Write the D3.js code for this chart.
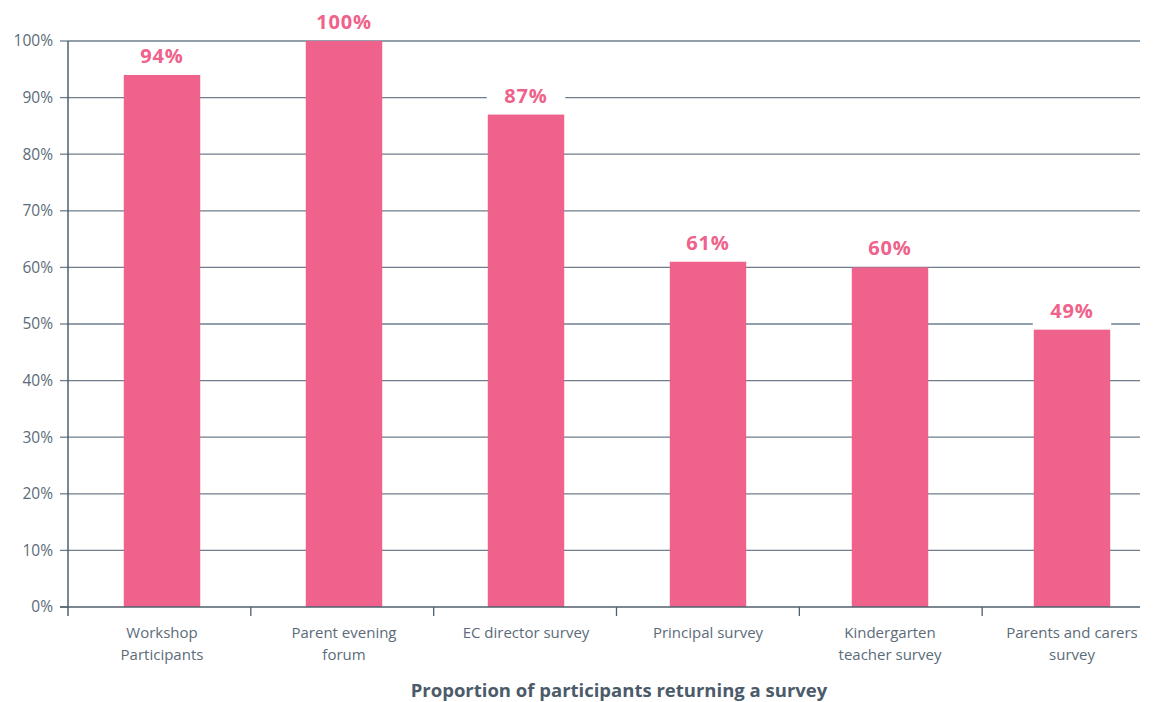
<!DOCTYPE html>
<html>
<head>
<meta charset="utf-8">
<script src="https://cdn.jsdelivr.net/npm/d3@7"></script>
<style>
  html, body { margin: 0; padding: 0; background: #fff; }
  svg { display: block; }
  text { font-family: "Open Sans", "Noto Sans", sans-serif; }
</style>
</head>
<body>
<svg id="chart" width="1154" height="702"></svg>
<script>
// Survey return rates by participant group
const categories = [
  ["Workshop", "Participants"],
  ["Parent evening", "forum"],
  ["EC director survey"],
  ["Principal survey"],
  ["Kindergarten", "teacher survey"],
  ["Parents and carers", "survey"]
];
const values = [94, 100, 87, 61, 60, 49];
const yTicks = [0, 10, 20, 30, 40, 50, 60, 70, 80, 90, 100];
const axisTitle = "Proportion of participants returning a survey";

const svg = d3.select("#chart");
const plotLeft = 68, plotTop = 41, plotBottom = 607, gridRight = 1140;

// Bars
const x = d3.scaleBand()
  .domain(d3.range(categories.length))
  .range([71, 1163])
  .paddingInner(0.58)
  .paddingOuter(0.29);

// Category slots along the x axis (for separator ticks)
const slot = d3.scaleBand()
  .domain(d3.range(categories.length))
  .range([plotLeft, 1165]);

const y = d3.scaleLinear().domain([0, 100]).range([plotBottom, plotTop]);

const gridColor = "#6e7e8c";
const textColor = "#5b6b79";
const pink = "#ef628b";

// Horizontal gridlines
svg.append("g").selectAll("line")
  .data(yTicks.filter(d => d > 0))
  .join("line")
  .attr("x1", plotLeft).attr("x2", gridRight)
  .attr("y1", d => y(d)).attr("y2", d => y(d))
  .attr("stroke", gridColor).attr("stroke-width", 1.3);

// Y tick labels and tick marks
const yg = svg.append("g");
yg.selectAll("text")
  .data(yTicks)
  .join("text")
  .attr("x", plotLeft - 15)
  .attr("y", d => y(d))
  .attr("dy", "0.35em")
  .attr("text-anchor", "end")
  .attr("fill", textColor)
  .attr("font-size", 15.5)
  .text(d => d + "%");
yg.selectAll("line")
  .data(yTicks)
  .join("line")
  .attr("x1", plotLeft - 8).attr("x2", plotLeft)
  .attr("y1", d => y(d)).attr("y2", d => y(d))
  .attr("stroke", gridColor).attr("stroke-width", 1.3);

// Bars
svg.append("g").selectAll("rect")
  .data(values)
  .join("rect")
  .attr("x", (d, i) => x(i))
  .attr("y", d => y(d))
  .attr("width", x.bandwidth())
  .attr("height", d => plotBottom - y(d))
  .attr("fill", pink);

// Value labels on white backing
const lab = svg.append("g").selectAll("g")
  .data(values)
  .join("g");
lab.append("rect")
  .attr("x", (d, i) => x(i) - 1)
  .attr("y", d => y(d) - 32)
  .attr("width", x.bandwidth() + 2)
  .attr("height", 30)
  .attr("fill", "#fff");
lab.append("text")
  .attr("x", (d, i) => x(i) + x.bandwidth() / 2)
  .attr("y", d => y(d) - 12)
  .attr("text-anchor", "middle")
  .attr("fill", pink)
  .attr("font-size", 20)
  .attr("font-weight", "bold")
  .attr("letter-spacing", 0.8)
  .text(d => d + "%");

// Axis lines
svg.append("line")
  .attr("x1", plotLeft).attr("x2", plotLeft)
  .attr("y1", plotTop).attr("y2", plotBottom + 9)
  .attr("stroke", "#4f5f6d").attr("stroke-width", 1.5);
svg.append("line")
  .attr("x1", plotLeft - 8).attr("x2", gridRight)
  .attr("y1", plotBottom).attr("y2", plotBottom)
  .attr("stroke", "#4f5f6d").attr("stroke-width", 1.5);

// Category separators
svg.append("g").selectAll("line")
  .data(d3.range(1, categories.length))
  .join("line")
  .attr("x1", i => slot(i))
  .attr("x2", i => slot(i))
  .attr("y1", plotBottom).attr("y2", plotBottom + 9)
  .attr("stroke", "#4f5f6d").attr("stroke-width", 1.3);

// Category labels
const cl = svg.append("g").selectAll("text")
  .data(categories)
  .join("text")
  .attr("x", (d, i) => x(i) + x.bandwidth() / 2)
  .attr("y", 638)
  .attr("text-anchor", "middle")
  .attr("fill", textColor)
  .attr("font-size", 15);
cl.selectAll("tspan")
  .data(d => d)
  .join("tspan")
  .attr("x", function () { return d3.select(this.parentNode).attr("x"); })
  .attr("dy", (d, j) => j === 0 ? 0 : 22)
  .text(d => d);

// Axis title
svg.append("text")
  .attr("x", 619)
  .attr("y", 697)
  .attr("text-anchor", "middle")
  .attr("fill", "#4b5b69")
  .attr("font-size", 18.5)
  .attr("font-weight", "bold")
  .text(axisTitle);
</script>
</body>
</html>
